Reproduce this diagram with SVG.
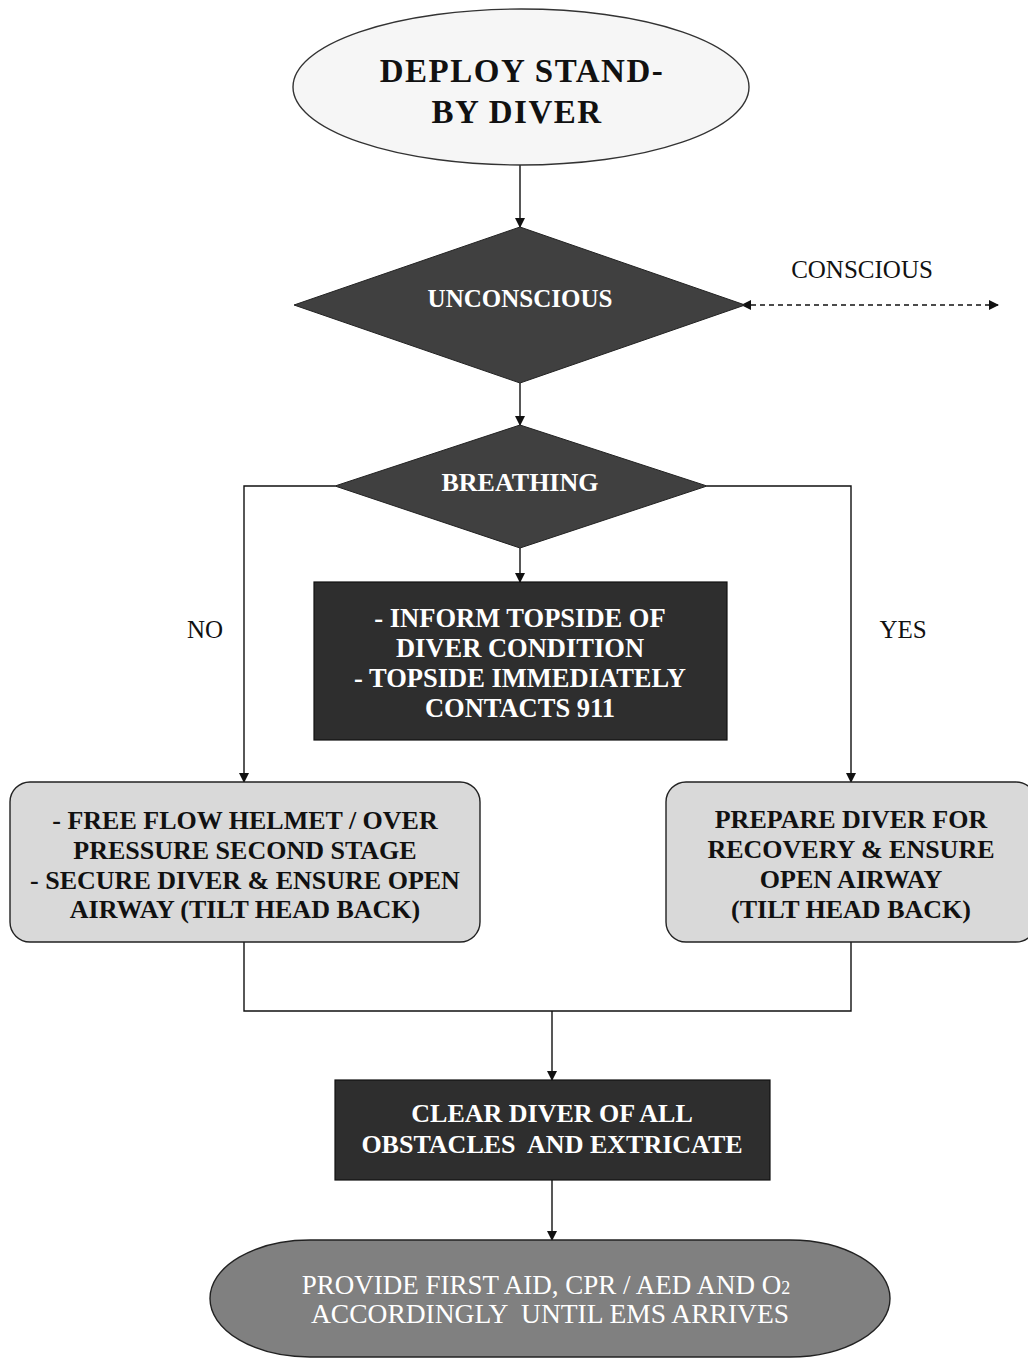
<svg xmlns="http://www.w3.org/2000/svg" width="1028" height="1358" viewBox="0 0 1028 1358">
<style>
.t{font-family:"Liberation Serif","Times New Roman",serif;text-anchor:middle}
.b{font-weight:bold}
.w{fill:#ffffff}
.k{fill:#111111}
.ln{fill:none;stroke:#111;stroke-width:1.4}
</style>
<defs>
<marker id="ah" markerWidth="10" markerHeight="10" refX="9" refY="5" orient="auto" markerUnits="userSpaceOnUse">
<path d="M0,0 L10,5 L0,10 Z" fill="#111"/>
</marker>
<marker id="as" markerWidth="10" markerHeight="10" refX="1" refY="5" orient="auto" markerUnits="userSpaceOnUse">
<path d="M10,0 L0,5 L10,10 Z" fill="#111"/>
</marker>
</defs>
<rect width="1028" height="1358" fill="#ffffff"/>

<g id="connectors">
<line class="ln" x1="520" y1="165" x2="520" y2="227" marker-end="url(#ah)"/>
<line class="ln" x1="742" y1="305" x2="998" y2="305" stroke-dasharray="5,4" marker-start="url(#as)" marker-end="url(#ah)"/>
<line class="ln" x1="520" y1="383" x2="520" y2="425" marker-end="url(#ah)"/>
<line class="ln" x1="520" y1="548" x2="520" y2="582" marker-end="url(#ah)"/>
<polyline class="ln" points="335,486 244,486 244,782" marker-end="url(#ah)"/>
<polyline class="ln" points="707,486 851,486 851,782" marker-end="url(#ah)"/>
<polyline class="ln" points="244,942 244,1011 851,1011 851,942"/>
<line class="ln" x1="552" y1="1011" x2="552" y2="1080" marker-end="url(#ah)"/>
<line class="ln" x1="552" y1="1180" x2="552" y2="1240" marker-end="url(#ah)"/>
</g>

<g id="labels">
<text class="t k" x="862" y="278" font-size="25">CONSCIOUS</text>
<text class="t k" x="205" y="638" font-size="25">NO</text>
<text class="t k" x="903" y="638" font-size="25">YES</text>
</g>

<g id="deploy">
<ellipse cx="521" cy="87" rx="228" ry="78" fill="#f6f6f6" stroke="#333" stroke-width="1.4"/>
<text class="t b k" x="522" y="82" font-size="33" letter-spacing="1.5">DEPLOY STAND-</text>
<text class="t b k" x="517" y="123" font-size="33" letter-spacing="1.5">BY DIVER</text>
</g>

<g id="unconscious">
<polygon points="520,227 745,305 520,383 294,305" fill="#404040" stroke="#222" stroke-width="1"/>
<text class="t b w" x="520" y="307" font-size="25">UNCONSCIOUS</text>
</g>

<g id="breathing">
<polygon points="520,425 707,486 520,548 335,486" fill="#404040" stroke="#222" stroke-width="1"/>
<text class="t b w" x="520" y="491" font-size="26">BREATHING</text>
</g>

<g id="inform">
<rect x="314" y="582" width="413" height="158" fill="#2e2e2e" stroke="#111" stroke-width="1.2"/>
<text class="t b w" x="520" y="627" font-size="26.5">- INFORM TOPSIDE OF</text>
<text class="t b w" x="520" y="657" font-size="26.5">DIVER CONDITION</text>
<text class="t b w" x="520" y="687" font-size="26.5">- TOPSIDE IMMEDIATELY</text>
<text class="t b w" x="520" y="717" font-size="26.5">CONTACTS 911</text>
</g>

<g id="no-breathing">
<rect x="10" y="782" width="470" height="160" rx="20" ry="20" fill="#d9d9d9" stroke="#222" stroke-width="1.4"/>
<text class="t b k" x="245" y="829" font-size="26">- FREE FLOW HELMET / OVER</text>
<text class="t b k" x="245" y="859" font-size="26">PRESSURE SECOND STAGE</text>
<text class="t b k" x="245" y="889" font-size="26">- SECURE DIVER &amp; ENSURE OPEN</text>
<text class="t b k" x="245" y="918" font-size="26">AIRWAY (TILT HEAD BACK)</text>
</g>

<g id="yes-breathing">
<rect x="666" y="782" width="370" height="160" rx="20" ry="20" fill="#d9d9d9" stroke="#222" stroke-width="1.4"/>
<text class="t b k" x="851" y="828" font-size="26">PREPARE DIVER FOR</text>
<text class="t b k" x="851" y="858" font-size="26">RECOVERY &amp; ENSURE</text>
<text class="t b k" x="851" y="888" font-size="26">OPEN AIRWAY</text>
<text class="t b k" x="851" y="918" font-size="26">(TILT HEAD BACK)</text>
</g>

<g id="clear">
<rect x="335" y="1080" width="435" height="100" fill="#2e2e2e" stroke="#111" stroke-width="1.2"/>
<text class="t b w" x="552" y="1122" font-size="26">CLEAR DIVER OF ALL</text>
<text class="t b w" x="552" y="1153" font-size="26" xml:space="preserve">OBSTACLES  AND EXTRICATE</text>
</g>

<g id="first-aid">
<rect x="210" y="1240" width="680" height="117" rx="100" ry="58.5" fill="#808080" stroke="#222" stroke-width="1.4"/>
<text class="t w" x="546" y="1294" font-size="27">PROVIDE FIRST AID, CPR / AED AND O<tspan font-size="18">2</tspan></text>
<text class="t w" x="550" y="1323" font-size="27.5" xml:space="preserve">ACCORDINGLY  UNTIL EMS ARRIVES</text>
</g>
</svg>
